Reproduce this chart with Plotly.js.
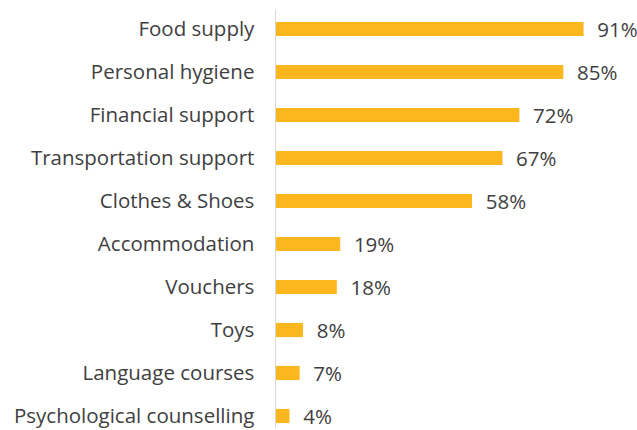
<!DOCTYPE html>
<html><head><meta charset="utf-8">
<script src="https://cdn.plot.ly/plotly-3.0.1.min.js"></script>
<style>html,body{margin:0;padding:0;background:#fff}</style>
</head><body>
<div id="chart" style="width:637px;height:430px"></div>
<script>
const categories = ["Food supply","Personal hygiene","Financial support","Transportation support","Clothes & Shoes","Accommodation","Vouchers","Toys","Language courses","Psychological counselling"];
const values = [91,85,72,67,58,19,18,8,7,4];
const labels = ["91%","85%","72%","67%","58%","19%","18%","8%","7%","4%"];

const trace = {
  type: 'bar', orientation: 'h',
  y: categories, x: values,
  text: labels.map(s => '  ' + s),
  textposition: 'outside',
  constraintext: 'none',
  cliponaxis: false,
  textfont: {family: 'Open Sans, sans-serif', size: 20.5, color: '#404040'},
  marker: {color: '#FDB71E'},
  width: 0.33,
  hoverinfo: 'none'
};
const layout = {
  width: 637, height: 430,
  margin: {l: 276, r: 23, t: 10, b: 2},
  paper_bgcolor: '#fff', plot_bgcolor: '#fff',
  showlegend: false,
  xaxis: {range: [0, 100], visible: false, fixedrange: true},
  yaxis: {
    type: 'category', range: [9.279, -0.442],
    showline: true, linecolor: '#d9d9d9', linewidth: 1.5,
    showgrid: false, zeroline: false, ticks: '',
    ticklabelstandoff: 16,
    tickfont: {family: 'Open Sans, sans-serif', size: 20.5, color: '#404040'}
  },
  font: {family: 'Open Sans, sans-serif'}
};
Plotly.newPlot('chart', [trace], layout, {displayModeBar: false, staticPlot: true});
</script>
</body></html>
